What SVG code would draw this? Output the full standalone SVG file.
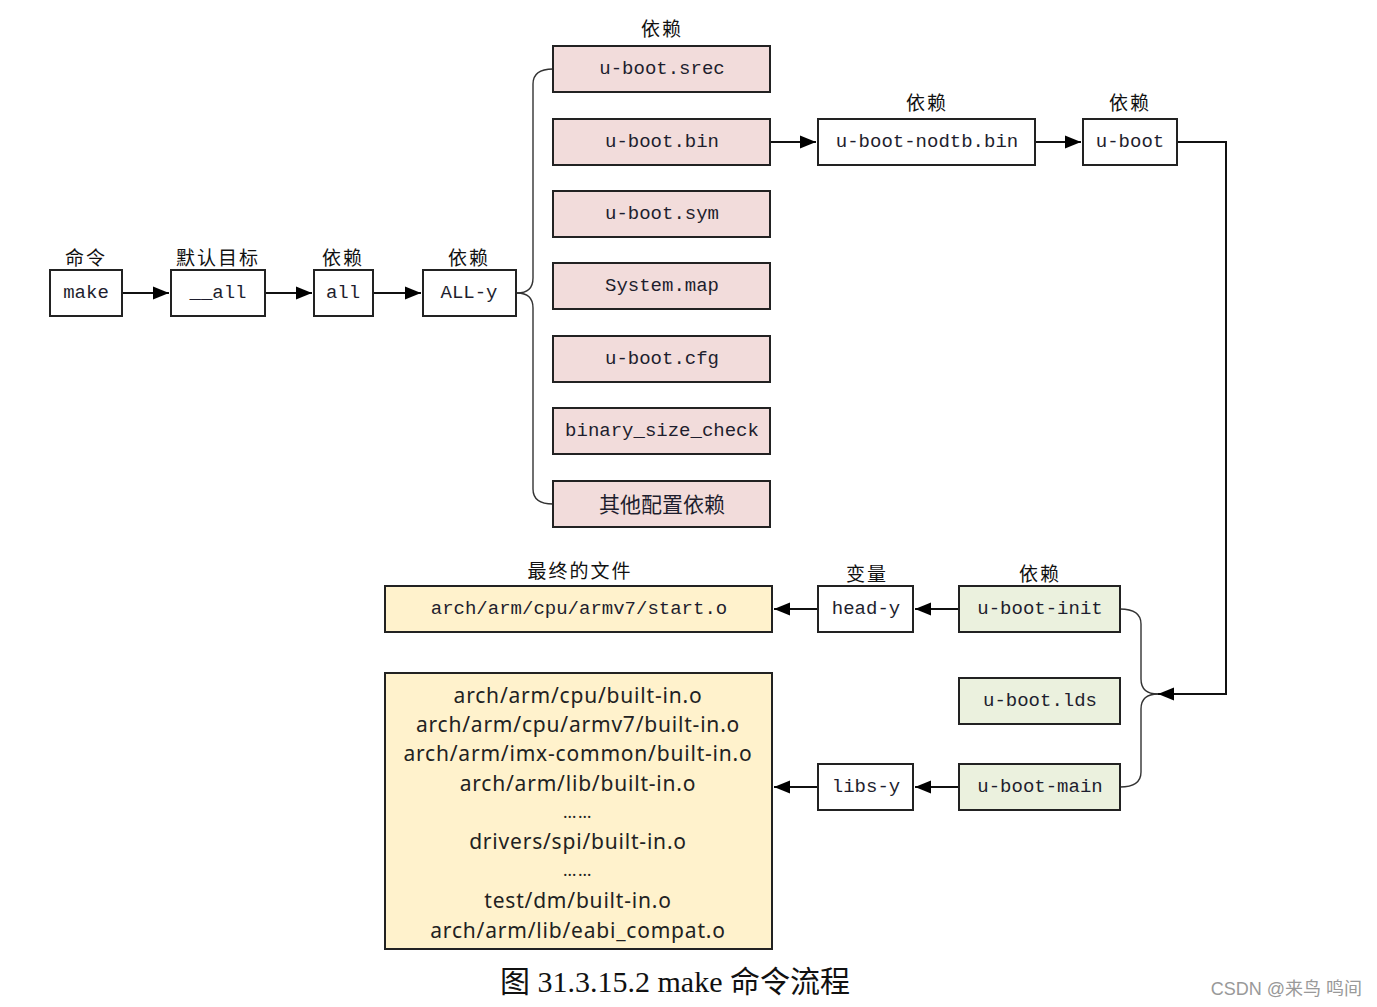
<svg xmlns="http://www.w3.org/2000/svg" width="1377" height="1007" viewBox="0 0 1377 1007">
<style>
.b{stroke:#222;stroke-width:2}
.w{fill:#fff}.p{fill:#f2dcdb}.g{fill:#ebf1de}.y{fill:#fff2cc}
.t{font-family:"Liberation Mono","Noto Sans CJK SC",monospace;font-size:19px;fill:#1e1e2e;text-anchor:middle;dominant-baseline:central}
.l{font-family:"Noto Sans CJK SC",sans-serif;font-size:19px;fill:#111;text-anchor:middle;dominant-baseline:central;letter-spacing:2px}
.s{font-family:"Noto Sans","Open Sans",sans-serif;font-size:21px;fill:#222;text-anchor:middle;dominant-baseline:central;letter-spacing:0.8px}
.d{font-family:"Noto Sans","Open Sans",sans-serif;font-size:17px;fill:#222;text-anchor:middle;dominant-baseline:central;letter-spacing:1.5px}
.c{fill:none;stroke:#111;stroke-width:2}
.k{fill:none;stroke:#333;stroke-width:1.4}
</style>
<defs>
<marker id="m" viewBox="0 0 10 10" refX="10" refY="5" markerWidth="16" markerHeight="16" markerUnits="userSpaceOnUse" orient="auto"><path d="M0,1L10,5L0,9z" fill="#000"/></marker>
</defs>
<rect width="1377" height="1007" fill="#fff"/>
<g id="labels">
<text class="l" x="662" y="27">依赖</text>
<text class="l" x="927" y="101">依赖</text>
<text class="l" x="1130" y="101">依赖</text>
<text class="l" x="86" y="256">命令</text>
<text class="l" x="218" y="256">默认目标</text>
<text class="l" x="343" y="256">依赖</text>
<text class="l" x="469" y="256">依赖</text>
<text class="l" x="580" y="569">最终的文件</text>
<text class="l" x="867" y="572">变量</text>
<text class="l" x="1040" y="572">依赖</text>
</g>
<g id="connectors">
<line class="c" x1="122" y1="293" x2="169" y2="293" marker-end="url(#m)"/>
<line class="c" x1="265" y1="293" x2="312" y2="293" marker-end="url(#m)"/>
<line class="c" x1="373" y1="293" x2="421" y2="293" marker-end="url(#m)"/>
<line class="c" x1="770" y1="142" x2="816" y2="142" marker-end="url(#m)"/>
<line class="c" x1="1035" y1="142" x2="1081" y2="142" marker-end="url(#m)"/>
<polyline class="c" points="1177,142 1226,142 1226,694 1158,694" marker-end="url(#m)"/>
<line class="c" x1="959" y1="609" x2="915" y2="609" marker-end="url(#m)"/>
<line class="c" x1="818" y1="609" x2="774" y2="609" marker-end="url(#m)"/>
<line class="c" x1="959" y1="787" x2="915" y2="787" marker-end="url(#m)"/>
<line class="c" x1="818" y1="787" x2="774" y2="787" marker-end="url(#m)"/>
<path class="k" d="M517,293 Q533,293 533,278 L533,84 Q533,69 553,69"/>
<path class="k" d="M517,293 Q533,293 533,308 L533,489 Q533,504 553,504"/>
<path class="k" d="M1120,609 Q1141,609 1141,624 L1141,679 Q1141,694 1158,694"/>
<path class="k" d="M1120,787 Q1141,787 1141,772 L1141,709 Q1141,694 1158,694"/>
</g>
<g id="make"><rect class="b w" x="50" y="270" width="72" height="46"/><text class="t" x="86" y="293">make</text></g>
<g id="_all"><rect class="b w" x="171" y="270" width="94" height="46"/><text class="t" x="218" y="293">__all</text></g>
<g id="all"><rect class="b w" x="314" y="270" width="59" height="46"/><text class="t" x="343" y="293">all</text></g>
<g id="ALL-y"><rect class="b w" x="423" y="270" width="93" height="46"/><text class="t" x="469" y="293">ALL-y</text></g>
<g id="srec"><rect class="b p" x="553" y="46" width="217" height="46"/><text class="t" x="662" y="69">u-boot.srec</text></g>
<g id="bin"><rect class="b p" x="553" y="119" width="217" height="46"/><text class="t" x="662" y="142">u-boot.bin</text></g>
<g id="sym"><rect class="b p" x="553" y="191" width="217" height="46"/><text class="t" x="662" y="214">u-boot.sym</text></g>
<g id="map"><rect class="b p" x="553" y="263" width="217" height="46"/><text class="t" x="662" y="286">System.map</text></g>
<g id="cfg"><rect class="b p" x="553" y="336" width="217" height="46"/><text class="t" x="662" y="359">u-boot.cfg</text></g>
<g id="check"><rect class="b p" x="553" y="408" width="217" height="46"/><text class="t" x="662" y="431">binary_size_check</text></g>
<g id="other"><rect class="b p" x="553" y="481" width="217" height="46"/><text class="t" x="662" y="503" style="font-family:'Noto Sans CJK SC',sans-serif;font-size:21px">其他配置依赖</text></g>
<g id="nodtb"><rect class="b w" x="818" y="119" width="217" height="46"/><text class="t" x="927" y="142">u-boot-nodtb.bin</text></g>
<g id="uboot"><rect class="b w" x="1083" y="119" width="94" height="46"/><text class="t" x="1130" y="142">u-boot</text></g>
<g id="init"><rect class="b g" x="959" y="586" width="161" height="46"/><text class="t" x="1040" y="609">u-boot-init</text></g>
<g id="lds"><rect class="b g" x="959" y="678" width="161" height="46"/><text class="t" x="1040" y="701">u-boot.lds</text></g>
<g id="main"><rect class="b g" x="959" y="764" width="161" height="46"/><text class="t" x="1040" y="787">u-boot-main</text></g>
<g id="head-y"><rect class="b w" x="818" y="586" width="95" height="46"/><text class="t" x="866" y="609">head-y</text></g>
<g id="libs-y"><rect class="b w" x="818" y="764" width="95" height="46"/><text class="t" x="866" y="787">libs-y</text></g>
<g id="start"><rect class="b y" x="385" y="586" width="387" height="46"/><text class="t" x="579" y="609">arch/arm/cpu/armv7/start.o</text></g>
<g id="objs"><rect class="b y" x="385" y="673" width="387" height="276"/>
<text class="s" x="578" y="695">arch/arm/cpu/built-in.o</text>
<text class="s" x="578" y="724">arch/arm/cpu/armv7/built-in.o</text>
<text class="s" x="578" y="753">arch/arm/imx-common/built-in.o</text>
<text class="s" x="578" y="783">arch/arm/lib/built-in.o</text>
<text class="d" x="578" y="811">……</text>
<text class="s" x="578" y="841">drivers/spi/built-in.o</text>
<text class="d" x="578" y="869">……</text>
<text class="s" x="578" y="900">test/dm/built-in.o</text>
<text class="s" x="578" y="930">arch/arm/lib/eabi_compat.o</text>
</g>
<text x="675" y="992" style="font-family:'Liberation Serif','Noto Sans CJK SC',serif;font-size:30px;fill:#111;text-anchor:middle">图 31.3.15.2 make 命令流程</text>
<text x="1362" y="995" style="font-family:'Liberation Sans','Noto Sans CJK SC',sans-serif;font-size:18px;fill:#999;text-anchor:end">CSDN @来鸟 鸣间</text>
</svg>
